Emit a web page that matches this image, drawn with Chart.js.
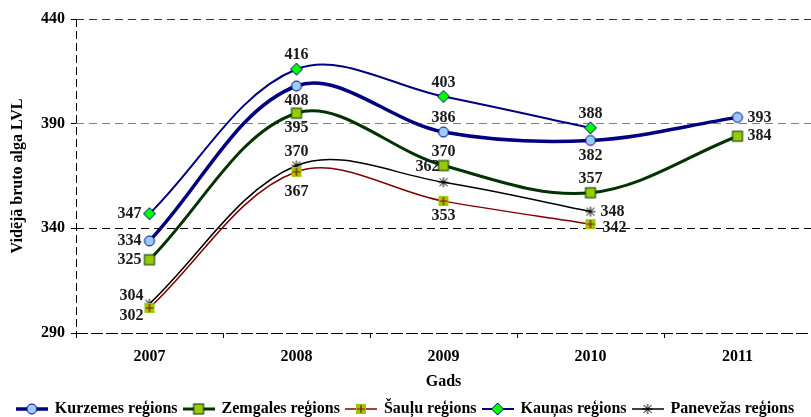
<!DOCTYPE html>
<html>
<head>
<meta charset="utf-8">
<script src="https://cdn.jsdelivr.net/npm/chart.js@4/dist/chart.umd.min.js"></script>
<style>
  html, body { margin: 0; padding: 0; background: #fff; }
</style>
</head>
<body>
<canvas id="grafiks" width="811" height="417"></canvas>
<script>
const gadi = ["2007", "2008", "2009", "2010", "2011"];
const kurzemes = [334, 408, 386, 382, 393];
const zemgales = [325, 395, 370, 357, 384];
const saulu = [302, 367, 353, 342];
const kaunas = [347, 416, 403, 388];
const panevezas = [304, 370, 362, 348];
const yVertibas = [290, 340, 390, 440];

const fonts = "'Liberation Serif', 'Times New Roman', serif";
const apaksa = 10; // leģenda nedaudz zemāk

// marķieru zīmēšana (gan punktiem, gan leģendai)
function zimetMarkieri(ctx, tips, x, y) {
  ctx.lineWidth = 1;
  if (tips === "aplis") {
    ctx.fillStyle = "#99ccff"; ctx.strokeStyle = "#000080";
    ctx.beginPath(); ctx.arc(x, y, 5, 0, Math.PI * 2); ctx.fill(); ctx.stroke();
  } else if (tips === "kvadrats") {
    ctx.fillStyle = "#99cc00"; ctx.strokeStyle = "#003300";
    ctx.fillRect(x - 5, y - 5, 10, 10); ctx.strokeRect(x - 5, y - 5, 10, 10);
  } else if (tips === "krusts") {
    ctx.fillStyle = "#99cc00";
    ctx.fillRect(x - 5, y - 5, 10, 10);
    ctx.strokeStyle = "#990000"; ctx.lineWidth = 1.2;
    ctx.beginPath(); ctx.moveTo(x - 4, y); ctx.lineTo(x + 4, y);
    ctx.moveTo(x, y - 4); ctx.lineTo(x, y + 4); ctx.stroke();
  } else if (tips === "rombs") {
    ctx.fillStyle = "#00ff00"; ctx.strokeStyle = "#000080";
    ctx.beginPath(); ctx.moveTo(x, y - 6); ctx.lineTo(x + 6, y);
    ctx.lineTo(x, y + 6); ctx.lineTo(x - 6, y); ctx.closePath(); ctx.fill(); ctx.stroke();
  } else if (tips === "zvaigzne") {
    ctx.strokeStyle = "#000"; ctx.lineWidth = 1;
    ctx.beginPath();
    ctx.moveTo(x - 5, y); ctx.lineTo(x + 5, y);
    ctx.moveTo(x - 4, y - 4); ctx.lineTo(x + 4, y + 4);
    ctx.moveTo(x - 4, y + 4); ctx.lineTo(x + 4, y - 4);
    ctx.moveTo(x, y - 5); ctx.lineTo(x, y + 5);
    ctx.stroke();
  }
}

function markieraAttels(tips) {
  const c = document.createElement("canvas");
  c.width = 14; c.height = 14;
  zimetMarkieri(c.getContext("2d"), tips, 7, 7);
  return c;
}

function legendasAttels(krasa, platums, tips) {
  const c = document.createElement("canvas");
  c.width = 32; c.height = 14;
  const ctx = c.getContext("2d");
  ctx.strokeStyle = krasa; ctx.lineWidth = platums;
  ctx.beginPath(); ctx.moveTo(0, 7); ctx.lineTo(32, 7); ctx.stroke();
  zimetMarkieri(ctx, tips, 16, 7);
  return c;
}

// etiķešu novietojums: [dx, dy, līdzinājums]
const poz = {
  l: [-8, 0, "right"], la: [-6, -8, "right"], la2: [-4, -15, "right"], lb: [-6, 8, "right"],
  a: [0, -14, "center"], b: [0, 15, "center"], bb: [0, 20, "center"],
  r: [10, 0, "left"], rb: [12, 4, "left"]
};

const serijas = [
  { nos: "Kurzemes reģions", dati: kurzemes, krasa: "#000080", platums: 3.5, tips: "aplis", et: ["l", "b", "a", "b", "r"] },
  { nos: "Zemgales reģions", dati: zemgales, krasa: "#003300", platums: 3, tips: "kvadrats", et: ["l", "b", "a", "a", "r"] },
  { nos: "Šauļu reģions", dati: saulu, krasa: "#800000", platums: 1.5, tips: "krusts", et: ["lb", "bb", "b", "rb"] },
  { nos: "Kauņas reģions", dati: kaunas, krasa: "#000080", platums: 2, tips: "rombs", et: ["l", "a", "a", "a"] },
  { nos: "Panevežas reģions", dati: panevezas, krasa: "#000000", platums: 1.5, tips: "zvaigzne", et: ["la", "a", "la2", "r"] }
];

const vertibuEtiketes = {
  id: "vertibuEtiketes",
  afterDatasetsDraw(chart) {
    const ctx = chart.ctx;
    ctx.save();
    ctx.font = "bold 16px " + fonts;
    ctx.fillStyle = "#1a1a1a";
    ctx.textBaseline = "middle";
    chart.data.datasets.forEach((ds, i) => {
      const meta = chart.getDatasetMeta(i);
      meta.data.forEach((p, j) => {
        const o = poz[ds.etiketes[j]];
        ctx.textAlign = o[2];
        ctx.fillText(String(ds.data[j]), p.x + o[0], p.y + o[1]);
      });
    });
    ctx.restore();
  }
};

new Chart(document.getElementById("grafiks"), {
  type: "line",
  data: {
    labels: gadi,
    datasets: serijas.map(s => ({
      label: s.nos,
      data: s.dati,
      borderColor: s.krasa,
      borderWidth: s.platums,
      pointStyle: markieraAttels(s.tips),
      pointRadius: 6,
      tension: 0.35,
      fill: false,
      etiketes: s.et,
      legendasZime: legendasAttels(s.krasa, s.platums, s.tips)
    }))
  },
  options: {
    responsive: false,
    animation: false,
    events: [],
    layout: { autoPadding: false, padding: { top: 19, right: 0, left: 0, bottom: -apaksa } },
    plugins: {
      tooltip: { enabled: false },
      legend: {
        position: "bottom",
        labels: {
          usePointStyle: true,
          pointStyleWidth: 30,
          padding: 6,
          color: "#000",
          font: { family: fonts, size: 16, weight: "bold" },
          generateLabels(chart) {
            return chart.data.datasets.map((ds, i) => ({
              text: ds.label,
              pointStyle: ds.legendasZime,
              datasetIndex: i,
              fontColor: "#000",
              lineWidth: 0,
              hidden: false
            }));
          }
        }
      }
    },
    scales: {
      x: {
        offset: true,
        afterFit(scale) {
          scale.height = 417 + apaksa - 333 - scale.chart.legend.height;
          scale.paddingLeft = 0;
          scale.paddingRight = 0;
        },
        border: { display: false, dash: [8, 4] },
        grid: {
          offset: true,
          color: c => (c.index === 0 ? "#000" : "rgba(0,0,0,0)"),
          tickColor: "#000",
          tickLength: 5
        },
        ticks: { color: "#000", padding: 9, font: { family: fonts, size: 16, weight: "bold" } },
        title: {
          display: true, text: "Gads", color: "#000",
          padding: { top: 2, bottom: 4 },
          font: { family: fonts, size: 16, weight: "bold" }
        }
      },
      y: {
        min: 290,
        max: 440,
        afterBuildTicks(scale) { scale.ticks = yVertibas.map(v => ({ value: v })); },
        afterFit(scale) { scale.width = 76; },
        border: {
          display: false,
          dash: c => (c.tick && c.tick.value === 290 ? [12, 3] : [8, 5])
        },
        grid: {
          color: c => {
            const v = c.tick && c.tick.value;
            if (v === 390) return "#808080";
            if (v === 440) return "#333";
            return "#000";
          },
          tickColor: "#000",
          tickLength: 5
        },
        ticks: { color: "#000", padding: 6, font: { family: fonts, size: 16, weight: "bold" } },
        title: {
          display: true, text: "Vidējā bruto alga LVL", color: "#000",
          padding: { top: 8, bottom: 0 },
          font: { family: fonts, size: 16, weight: "bold" }
        }
      }
    }
  },
  plugins: [vertibuEtiketes]
});
</script>
</body>
</html>
